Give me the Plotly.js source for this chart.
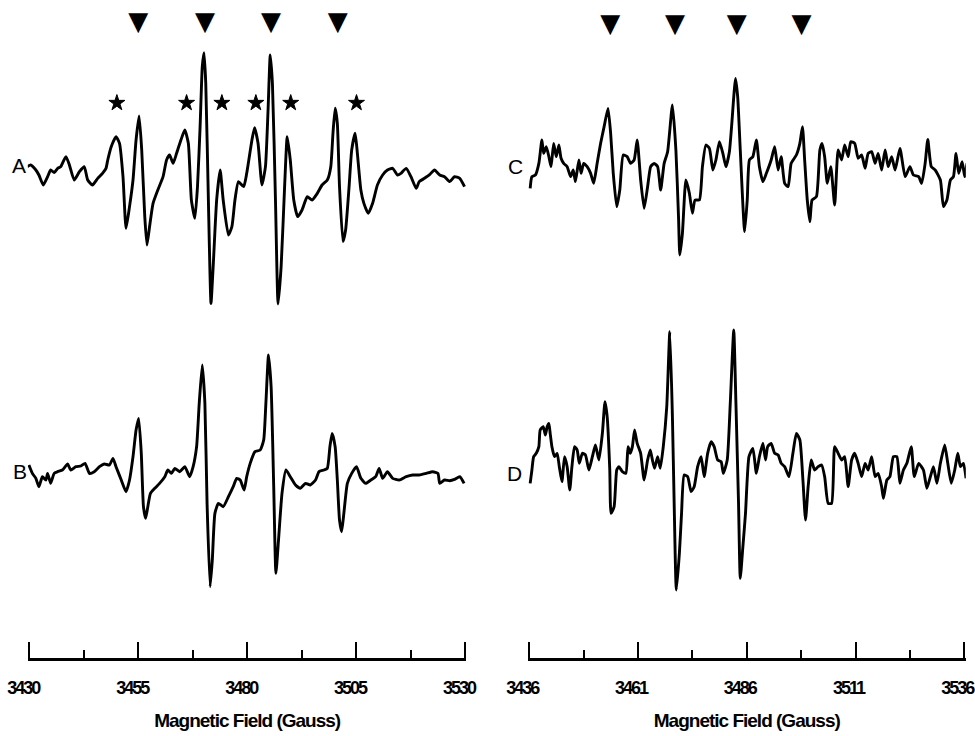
<!DOCTYPE html>
<html>
<head>
<meta charset="utf-8">
<script src="https://cdn.plot.ly/plotly-3.0.1.min.js"></script>
<style>
html,body{margin:0;padding:0;background:#fff;}
#chart{width:975px;height:736px;}
#chart .xaxislayer-above text{letter-spacing:-2px;}
#chart text.xtitle, #chart text.x2title{letter-spacing:-1px;}
</style>
</head>
<body>
<div id="chart"></div>
<script>
// Spectrum A (left, top) - magnetic field (G) and signal (a.u.)
const fieldA = [3429.5,3430.3,3431.5,3432.2,3433.2,3434.2,3434.9,3435.7,3436.5,3437.2,3438.4,3439.2,3440.3,3441.5,3442.6,3443.4,3444.5,3445.7,3446.8,3447.6,3448.0,3448.8,3449.9,3450.7,3451.5,3452.2,3453.0,3453.8,3454.5,3455.2,3455.8,3456.5,3457.0,3457.6,3458.4,3459.5,3460.7,3461.5,3462.2,3463.0,3463.8,3464.8,3465.7,3466.5,3467.2,3468.0,3468.6,3469.2,3469.7,3470.1,3470.5,3471.1,3471.7,3472.2,3473.0,3473.8,3474.5,3475.7,3476.5,3477.2,3478.0,3479.2,3479.9,3481.1,3481.7,3482.5,3483.4,3484.2,3484.8,3485.3,3485.8,3486.5,3487.1,3487.8,3488.6,3489.2,3489.9,3490.7,3491.6,3492.6,3493.8,3494.9,3496.1,3497.2,3498.4,3499.2,3499.7,3500.2,3500.7,3501.2,3502.0,3502.6,3503.4,3504.0,3504.8,3505.3,3506.1,3506.8,3507.8,3508.8,3509.9,3511.1,3512.2,3513.4,3514.5,3515.3,3516.5,3517.6,3518.8,3519.5,3520.7,3521.8,3523.0,3524.2,3525.3,3526.5,3527.6,3528.8,3529.9];
const ampA = [2.0,2.5,1.0,-0.5,-3.5,-1.0,1.0,0.2,1.5,2.0,5.0,2.5,-2.0,0.5,2.0,-2.0,-3.5,-1.5,0.0,1.5,4.0,8.0,11.0,9.0,-1.0,-16.5,-10.0,-2.0,10.0,17.2,7.0,-13.0,-21.5,-16.0,-9.0,-5.0,-1.0,4.0,5.5,3.0,6.0,10.0,13.0,9.0,-8.0,-13.5,-4.0,14.0,32.0,36.2,27.0,-8.0,-39.0,-28.0,-8.0,1.0,-8.0,-18.5,-16.0,-8.0,-2.5,-4.0,0.0,10.0,13.7,9.0,-3.5,2.0,19.0,35.5,27.0,-8.0,-39.2,-28.0,-4.0,11.0,4.0,-8.0,-13.0,-11.0,-7.0,-8.0,-6.0,-3.5,-2.0,2.0,12.0,19.5,15.0,-4.0,-20.5,-17.0,-4.0,7.0,12.0,6.0,-5.0,-9.0,-12.0,-9.0,-3.5,-0.5,1.0,1.5,-0.5,0.0,1.5,-1.0,-4.5,-2.5,-1.5,-0.5,1.0,-0.5,-1.0,-2.5,-1.0,-1.5,-4.0];

// Spectrum B (left, bottom)
const fieldB = [3429.9,3430.7,3431.5,3432.2,3433.0,3433.8,3434.2,3434.9,3435.7,3436.5,3437.6,3438.8,3439.5,3440.7,3441.8,3442.8,3443.8,3444.9,3446.1,3447.2,3448.4,3449.2,3449.9,3451.1,3452.2,3453.0,3453.8,3454.5,3455.1,3455.7,3456.2,3456.7,3457.2,3457.8,3458.8,3459.9,3461.1,3461.8,3462.6,3463.4,3464.5,3465.7,3466.8,3467.6,3468.4,3469.0,3469.7,3470.3,3470.8,3471.5,3472.0,3472.6,3473.4,3474.5,3475.7,3476.8,3477.6,3478.4,3479.3,3479.9,3480.7,3481.8,3483.0,3483.8,3484.3,3484.9,3485.5,3486.1,3486.6,3487.2,3488.0,3488.9,3489.9,3491.1,3492.2,3493.4,3494.5,3495.7,3496.5,3497.6,3498.4,3499.0,3499.5,3500.2,3500.7,3501.2,3501.7,3502.2,3503.0,3504.0,3505.1,3506.1,3507.2,3508.4,3509.5,3510.3,3511.1,3512.2,3513.4,3514.9,3516.5,3518.0,3519.5,3521.1,3522.6,3523.8,3524.2,3525.3,3526.5,3527.6,3528.8,3529.8];
const ampB = [3.0,0.5,-1.0,-3.5,-0.5,-1.5,0.5,-2.5,0.5,1.0,1.5,3.3,1.5,2.5,2.7,3.5,0.5,1.0,2.5,3.3,3.0,5.0,2.5,-1.5,-5.0,-1.5,5.5,13.5,17.0,6.5,-9.5,-13.0,-9.5,-5.5,-4.0,-2.5,-0.5,1.5,0.5,2.0,1.0,2.5,-0.5,2.5,8.5,21.5,33.0,21.5,-8.5,-33.5,-25.5,-11.5,-8.5,-9.5,-6.5,-3.5,-1.0,-1.5,-4.5,-0.5,3.5,7.0,7.5,10.5,21.5,36.0,26.5,-3.5,-29.5,-19.5,-5.5,1.5,-0.5,-3.0,-4.0,-2.5,-3.0,-1.5,1.0,1.5,2.0,8.5,12.5,8.5,-1.5,-13.5,-17.0,-11.5,-2.5,0.5,2.5,-1.0,-2.5,-1.5,-0.5,2.0,-1.0,1.0,-1.0,-1.5,-0.5,0.0,0.0,0.5,1.0,0.5,-2.5,-1.5,-1.7,-1.3,-0.5,-2.5];

// Spectrum C (right, top)
const fieldC = [3436.2,3436.6,3437.4,3438.2,3438.9,3439.3,3439.9,3440.5,3441.0,3441.6,3442.2,3442.8,3443.3,3443.9,3444.7,3445.5,3446.1,3446.6,3447.4,3447.9,3448.5,3449.3,3450.1,3450.8,3451.6,3452.4,3453.2,3454.1,3454.7,3455.3,3456.1,3456.8,3457.6,3458.5,3459.3,3460.1,3460.8,3461.6,3462.4,3463.2,3463.9,3464.7,3465.5,3466.2,3467.0,3467.8,3468.9,3469.7,3470.3,3470.6,3471.2,3472.0,3472.8,3473.5,3474.1,3475.1,3475.8,3476.6,3477.4,3478.2,3478.9,3479.7,3480.5,3481.2,3482.0,3482.5,3483.4,3483.9,3484.5,3485.5,3486.1,3486.6,3487.4,3488.2,3488.9,3489.7,3490.5,3491.6,3492.4,3493.2,3493.9,3494.7,3495.5,3496.2,3497.4,3498.2,3498.8,3499.3,3499.9,3500.5,3501.0,3502.0,3502.8,3503.3,3503.9,3504.5,3505.3,3506.2,3507.0,3507.8,3508.5,3509.3,3509.9,3510.8,3511.6,3512.4,3513.2,3513.9,3514.7,3515.5,3516.2,3517.0,3517.8,3518.5,3519.3,3520.1,3521.2,3522.4,3523.5,3524.3,3525.5,3526.2,3527.0,3527.6,3528.4,3529.3,3530.5,3531.2,3532.0,3532.8,3533.5,3534.1,3534.7,3535.5,3536.1,3536.6];
const ampC = [-6.5,-3.0,-2.5,1.0,8.0,4.0,6.0,3.0,0.0,7.0,3.0,6.5,2.5,1.0,0.0,-3.0,-1.0,-4.5,2.0,-2.0,1.0,0.0,-2.0,-5.0,1.0,7.0,12.0,17.5,10.0,-2.0,-12.0,-7.0,3.5,3.0,1.0,2.0,8.0,-4.0,-12.5,-6.0,0.0,1.0,0.0,-7.0,1.0,4.5,18.5,5.0,-15.0,-26.5,-20.0,-4.0,-8.0,-14.0,-10.0,-10.0,0.0,6.5,5.5,-1.0,2.0,7.5,4.0,0.0,4.5,12.0,26.5,21.0,5.0,-19.5,-10.0,2.0,3.0,8.0,0.0,-4.5,-2.0,2.0,6.0,-1.0,3.0,-5.0,-6.0,1.0,3.5,7.0,12.0,2.0,-10.0,-16.5,-10.0,-9.0,5.0,7.0,3.0,-5.0,0.0,-11.5,5.0,2.0,6.5,3.0,7.5,7.0,2.5,3.5,-0.5,4.0,4.5,1.0,4.0,-1.0,5.0,0.0,3.0,-1.0,5.5,-3.0,0.0,-2.5,-3.0,-5.0,1.0,8.2,0.0,-1.0,-4.0,-12.0,-10.0,-4.0,-3.0,4.0,-2.0,1.5,-3.0,1.0];

// Spectrum D (right, bottom)
const fieldD = [3436.2,3436.6,3437.0,3437.6,3438.2,3438.5,3439.2,3439.7,3440.1,3440.5,3440.8,3441.2,3441.8,3442.4,3442.9,3443.5,3444.1,3444.7,3445.3,3445.8,3446.4,3447.0,3447.5,3448.2,3448.9,3449.7,3450.5,3451.2,3452.0,3452.8,3453.4,3453.9,3454.5,3454.8,3455.5,3456.1,3456.6,3457.4,3458.2,3458.7,3459.2,3459.7,3460.2,3460.8,3461.6,3462.4,3463.2,3463.8,3464.3,3464.8,3465.5,3466.1,3466.8,3467.6,3468.3,3468.9,3469.3,3469.8,3470.5,3471.0,3471.6,3472.4,3473.2,3473.9,3474.7,3475.5,3476.2,3477.0,3477.8,3478.5,3479.3,3480.1,3480.6,3481.5,3482.2,3483.0,3483.5,3484.1,3484.5,3485.1,3485.7,3486.5,3487.4,3488.2,3488.9,3489.7,3490.3,3490.8,3491.6,3492.4,3493.2,3493.9,3494.7,3495.7,3496.6,3497.4,3498.2,3498.9,3499.5,3500.1,3500.8,3501.6,3502.4,3503.2,3503.9,3504.7,3505.5,3506.2,3507.0,3507.8,3508.5,3509.3,3510.1,3510.8,3511.6,3512.4,3513.2,3513.9,3514.7,3515.5,3516.2,3517.0,3517.4,3518.2,3518.9,3519.7,3520.5,3521.2,3522.0,3522.8,3523.8,3524.5,3525.5,3526.6,3527.4,3528.2,3528.9,3529.7,3530.5,3531.5,3532.2,3533.0,3533.8,3534.5,3535.1,3535.8,3536.4];
const ampD = [-5.0,-1.0,3.0,4.0,6.0,11.0,12.0,9.5,12.0,13.0,10.0,6.0,3.0,4.0,0.0,-4.5,3.0,0.0,-7.0,0.0,6.0,5.0,1.0,4.0,3.5,-1.0,3.0,6.5,2.0,10.0,19.5,15.0,-1.0,-14.0,-12.0,-1.0,0.0,-1.5,-2.0,6.0,4.0,6.0,11.0,7.0,4.0,-4.0,2.0,5.0,2.0,-0.5,3.0,-0.5,6.0,18.0,40.5,15.0,-11.0,-37.0,-26.0,-14.0,-2.5,-3.0,-7.5,-6.0,0.0,3.0,-3.0,4.0,7.5,6.0,2.0,1.5,-2.0,2.0,19.0,41.0,19.0,-11.0,-33.5,-24.0,-14.0,3.0,5.5,-2.0,3.0,7.0,2.0,6.0,7.0,4.0,3.5,1.0,0.0,-3.0,4.0,10.0,8.0,-4.0,-16.0,-6.0,2.0,-1.0,0.0,0.5,-3.0,-11.0,-11.0,6.0,4.0,2.0,3.0,-6.0,2.0,4.0,1.0,-3.0,1.0,-1.0,3.0,-3.0,-2.0,-6.0,-9.5,-4.0,-3.0,3.0,3.0,-5.0,-1.0,1.0,6.0,-3.0,1.0,-1.0,-6.5,-3.0,0.0,-5.0,1.0,6.5,1.0,-5.0,-1.0,4.0,0.0,1.0,-3.5];

// Marker annotations
const trianglesLeft = [3455.0, 3470.3, 3485.5, 3500.8];
const triangleLevelLeft = 45.0;
const starsLeft = [3450.1, 3466.1, 3474.2, 3482.0, 3490.0, 3505.1];
const starLevelLeft = 21.1;
const trianglesRight = [3454.6, 3469.5, 3483.7, 3498.6];
const triangleLevelRight = 42.5;

const tickValsLeft = [3430, 3455, 3480, 3505, 3530];
const tickValsRight = [3436, 3461, 3486, 3511, 3536];
const panelLabels = ['A', 'B', 'C', 'D'];
const axisTitle = 'Magnetic Field (Gauss)';

const lineStyle = {color: '#000', width: 2.9, shape: 'spline', smoothing: 0.5};
const triFont = {family: 'DejaVu Sans', size: 26, color: '#000'};
const traces = [
  {x: fieldA, y: ampA, xaxis: 'x', yaxis: 'y', mode: 'lines', line: lineStyle, cliponaxis: false},
  {x: fieldB, y: ampB, xaxis: 'x', yaxis: 'y2', mode: 'lines', line: lineStyle, cliponaxis: false},
  {x: fieldC, y: ampC, xaxis: 'x2', yaxis: 'y3', mode: 'lines', line: lineStyle, cliponaxis: false},
  {x: fieldD, y: ampD, xaxis: 'x2', yaxis: 'y4', mode: 'lines', line: lineStyle, cliponaxis: false},
  {x: trianglesLeft, y: trianglesLeft.map(() => triangleLevelLeft), xaxis: 'x', yaxis: 'y', mode: 'text',
   text: trianglesLeft.map(() => '▼'), textfont: triFont, cliponaxis: false},
  {x: starsLeft, y: starsLeft.map(() => starLevelLeft), xaxis: 'x', yaxis: 'y', mode: 'markers',
   marker: {symbol: 'star', size: 12, color: '#000', line: {color: '#000', width: 1}}, cliponaxis: false},
  {x: trianglesRight, y: trianglesRight.map(() => triangleLevelRight), xaxis: 'x2', yaxis: 'y3', mode: 'text',
   text: trianglesRight.map(() => '▼'), textfont: triFont, cliponaxis: false}
];

const boldFamily = 'Liberation Sans Narrow, Liberation Sans, Arial, sans-serif';
const tickFont = {family: boldFamily, size: 18, color: '#000', weight: 'bold'};
function xAxis(domain, r, ticks, shift) {
  return {
    domain: domain, range: r, anchor: 'free', position: 0.1042,
    showline: true, linecolor: '#000', linewidth: 2.5,
    showgrid: false, zeroline: false,
    tickmode: 'array', tickvals: ticks, ticktext: ticks.map(String),
    ticks: 'inside', ticklen: 16, tickwidth: 2, tickcolor: '#000',
    minor: {dtick: 12.5, tick0: ticks[0], ticks: 'inside', ticklen: 8, tickwidth: 2, tickcolor: '#000', showgrid: false},
    tickfont: tickFont, ticklabelstandoff: 12, ticklabelshift: shift, ticklabeloverflow: 'allow',
    title: {text: axisTitle, font: {family: boldFamily, size: 19, color: '#000', weight: 'bold'}, standoff: 16},
    fixedrange: true
  };
}
function yAxis(domain) {
  return {domain: domain, range: [-50, 50], visible: false, fixedrange: true};
}
const labelFont = {family: 'Liberation Sans, Arial, sans-serif', size: 21, color: '#000'};
const labelPos = [[0.0195, 0.7745], [0.0205, 0.360], [0.5292, 0.7731], [0.5272, 0.356]];
const layout = {
  width: 975, height: 736,
  margin: {l: 0, r: 0, t: 0, b: 0},
  paper_bgcolor: '#fff', plot_bgcolor: 'rgba(0,0,0,0)',
  showlegend: false,
  xaxis: xAxis([0.028513, 0.47846], [3429.65, 3530.35], tickValsLeft, -6),
  xaxis2: xAxis([0.54131, 0.99059], [3435.65, 3536.35], tickValsRight, -7),
  yaxis: yAxis([0.538, 0.991]),
  yaxis2: yAxis([0.1281, 0.5811]),
  yaxis3: yAxis([0.5471, 1.0]),
  yaxis4: yAxis([0.1395, 0.5924]),
  annotations: panelLabels.map((t, i) => ({text: t, xref: 'paper', yref: 'paper', x: labelPos[i][0], y: labelPos[i][1],
    showarrow: false, xanchor: 'center', yanchor: 'middle', font: labelFont}))
};
Plotly.newPlot('chart', traces, layout, {staticPlot: true, displayModeBar: false});
</script>
</body>
</html>
